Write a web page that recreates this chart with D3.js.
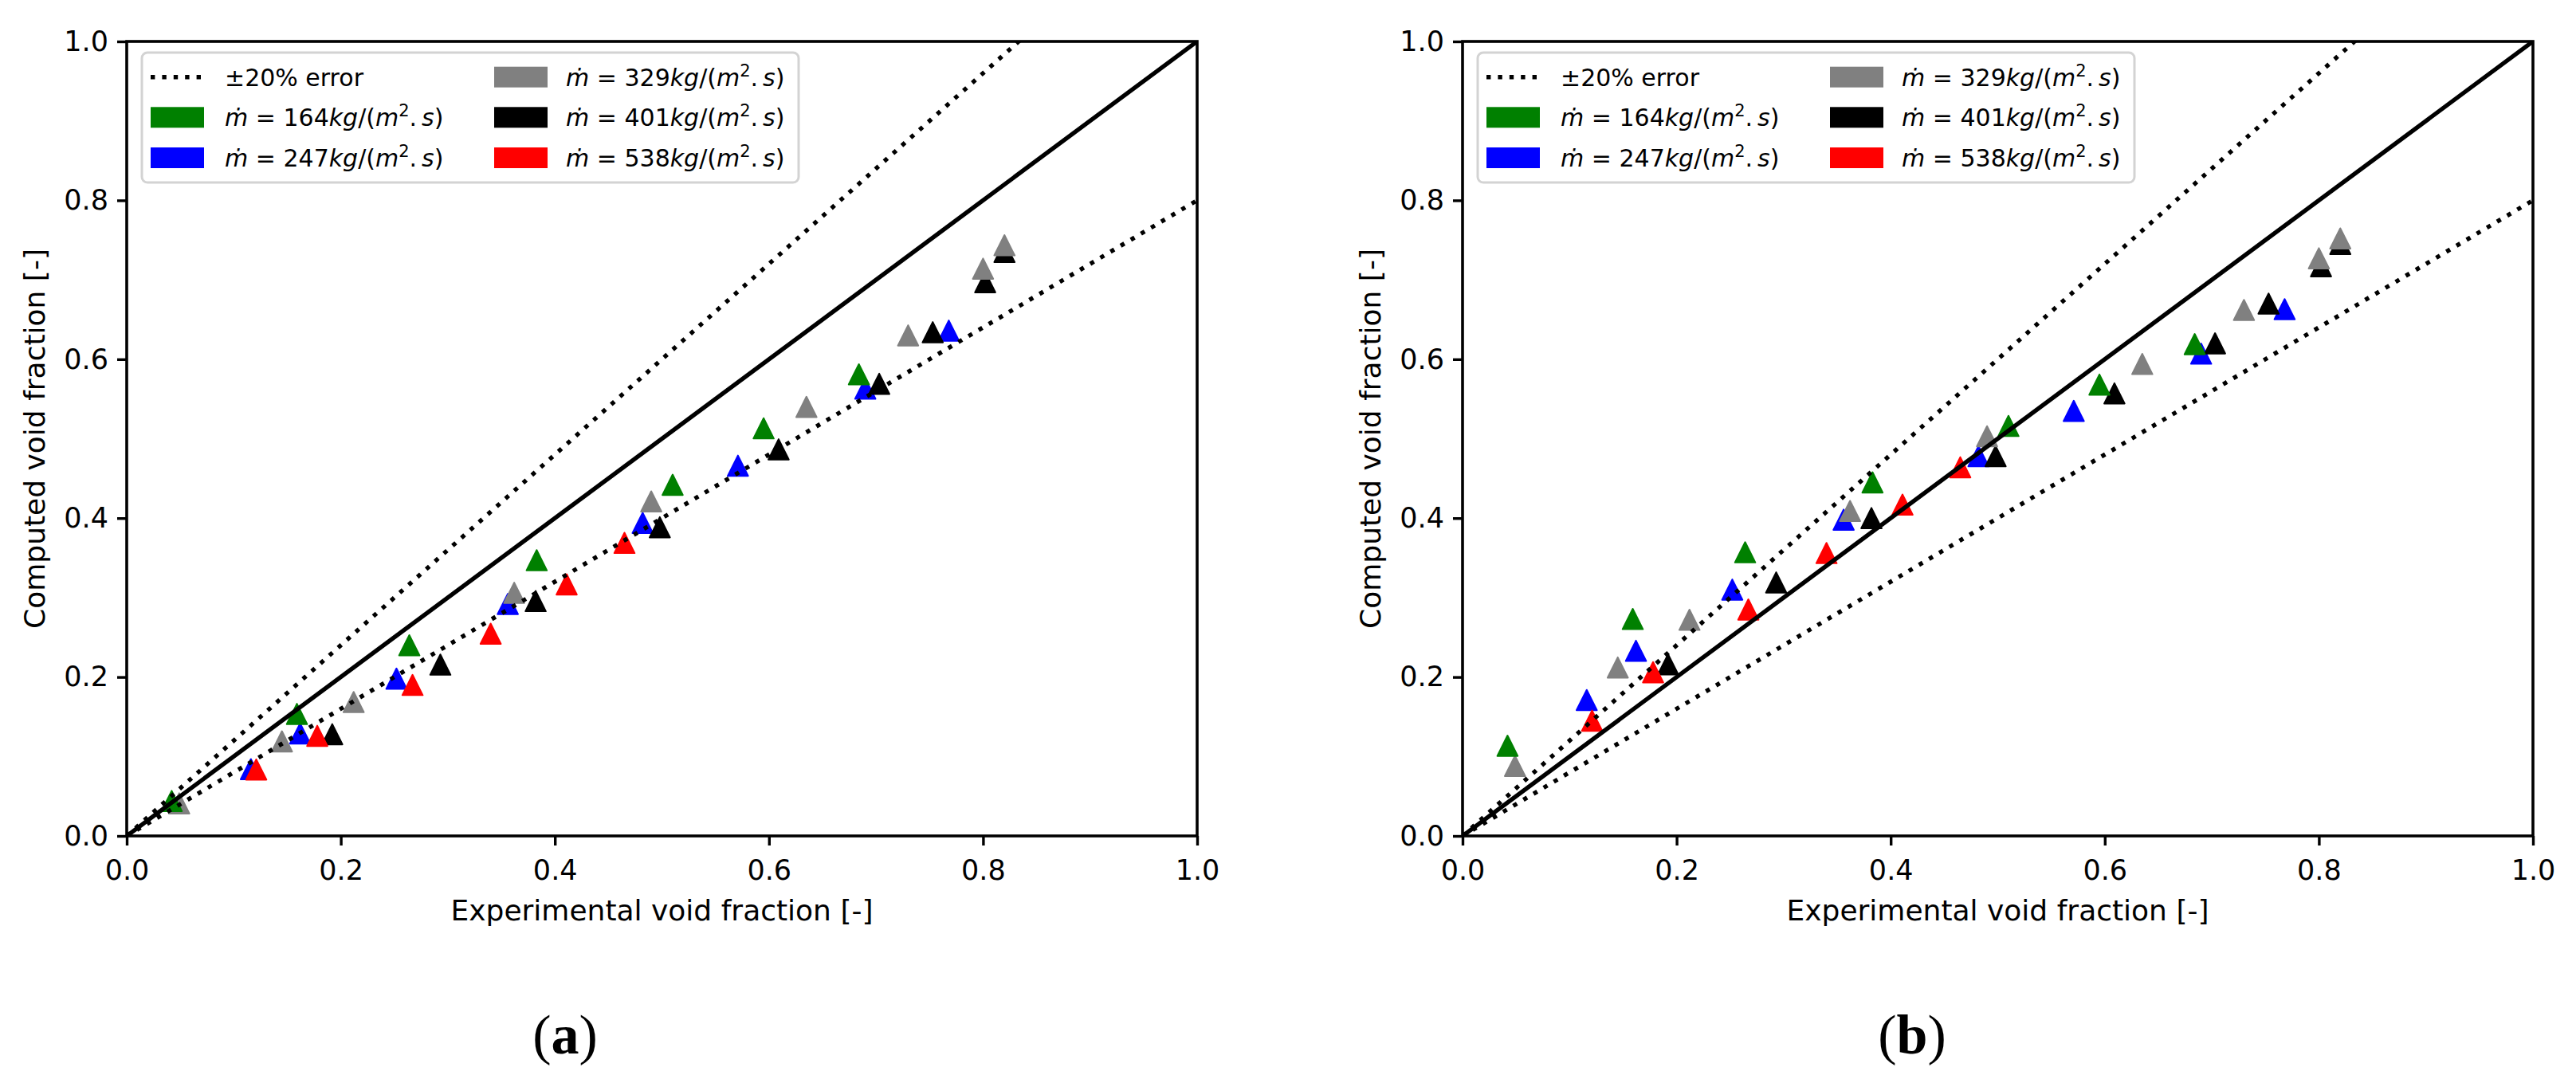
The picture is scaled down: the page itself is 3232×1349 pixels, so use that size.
<!DOCTYPE html>
<html>
<head>
<meta charset="utf-8">
<script src="https://cdn.jsdelivr.net/npm/d3@7"></script>
<style>
  html, body { margin: 0; padding: 0; background: #fff; }
  svg { display: block; }
</style>
</head>
<body>
<svg id="chart" width="3232" height="1349"></svg>
<script>
// ---------------- DATA ----------------
const fluxValues = [164, 247, 329, 401, 538];          // kg/(m2.s)
const seriesColors = ["green", "blue", "gray", "black", "red"];

// experimental void fraction (x) per series
const expX164 = [0.042, 0.159, 0.264, 0.383, 0.510, 0.595, 0.684];
const expX247 = [0.116, 0.162, 0.252, 0.356, 0.482, 0.571, 0.690, 0.768];
const expX329 = [0.049, 0.145, 0.212, 0.362, 0.490, 0.635, 0.730, 0.800, 0.820];
const expX401 = [0.192, 0.293, 0.382, 0.498, 0.609, 0.703, 0.753, 0.802, 0.820];
const expX538 = [0.121, 0.178, 0.267, 0.340, 0.411, 0.465];

// computed void fraction, panel (a)
const compA164 = [0.044, 0.1535, 0.240, 0.347, 0.442, 0.513, 0.581];
const compA247 = [0.084, 0.129, 0.198, 0.292, 0.394, 0.466, 0.563, 0.636];
const compA329 = [0.041, 0.119, 0.1685, 0.306, 0.421, 0.540, 0.630, 0.714, 0.7435];
const compA401 = [0.128, 0.2156, 0.2956, 0.3885, 0.4865, 0.569, 0.634, 0.697, 0.735];
const compA538 = [0.0836, 0.126, 0.190, 0.2545, 0.3166, 0.3688];

// computed void fraction, panel (b)
const compB164 = [0.1135, 0.273, 0.357, 0.445, 0.516, 0.568, 0.619];
const compB247 = [0.171, 0.233, 0.310, 0.398, 0.478, 0.535, 0.607, 0.663];
const compB329 = [0.088, 0.212, 0.272, 0.409, 0.503, 0.594, 0.662, 0.727, 0.752];
const compB401 = [0.216, 0.319, 0.400, 0.478, 0.557, 0.620, 0.670, 0.717, 0.745];
const compB538 = [0.145, 0.206, 0.285, 0.356, 0.417, 0.464];

const tickValues = [0.0, 0.2, 0.4, 0.6, 0.8, 1.0];
const tickLabels = ["0.0", "0.2", "0.4", "0.6", "0.8", "1.0"];
const errorBand = 0.20;
const errorLabel = "±20% error";
const xLabel = "Experimental void fraction [-]";
const yLabel = "Computed void fraction [-]";
const panelLetters = ["a", "b"];

// ---------------- LAYOUT ----------------
const svg = d3.select("#chart");
const FONT = "DejaVu Sans, sans-serif";
const plotW = 1343, plotTop = 52, plotBottom = 1049;
const panelLefts = [159, 1835];
const captionX = [709, 2399];
const drawOrder = [1, 3, 2, 4, 0]; // index into series for z-order

const expXs = [expX164, expX247, expX329, expX401, expX538];
const comps = [
  [compA164, compA247, compA329, compA401, compA538],
  [compB164, compB247, compB329, compB401, compB538]
];

const triHalf = 12.8;
const triPath = `M0,${-triHalf}L${triHalf},${triHalf}L${-triHalf},${triHalf}Z`;
const LW = 5.4;

panelLefts.forEach((x0, p) => {
  const x = d3.scaleLinear().domain([0, 1]).range([x0, x0 + plotW]);
  const y = d3.scaleLinear().domain([0, 1]).range([plotBottom, plotTop]);
  const g = svg.append("g");

  const clipId = "clip" + p;
  g.append("clipPath").attr("id", clipId).append("rect")
    .attr("x", x(0)).attr("y", y(1)).attr("width", x(1) - x(0)).attr("height", y(0) - y(1));

  // markers
  const mg = g.append("g").attr("clip-path", `url(#${clipId})`);
  drawOrder.forEach(s => {
    const pts = expXs[s].map((ex, i) => ({ ex, cy: comps[p][s][i] }));
    mg.selectAll(null).data(pts).enter().append("path")
      .attr("d", triPath)
      .attr("transform", d => `translate(${x(d.ex)},${y(d.cy)})`)
      .attr("fill", seriesColors[s])
      .attr("stroke", seriesColors[s])
      .attr("stroke-width", 2)
      .attr("stroke-linejoin", "round");
  });

  // reference lines
  const lg = g.append("g").attr("clip-path", `url(#${clipId})`);
  const line = d3.line().x(d => x(d[0])).y(d => y(d[1]));
  lg.append("path").datum([[0, 0], [1, 1]]).attr("d", line)
    .attr("stroke", "#000").attr("stroke-width", LW).attr("fill", "none");
  [1 + errorBand, 1 - errorBand].forEach(k => {
    lg.append("path").datum([[0, 0], [1, k]]).attr("d", line)
      .attr("stroke", "#000").attr("stroke-width", LW).attr("fill", "none")
      .attr("stroke-dasharray", `${LW} 9.4`);
  });

  // axes
  const xAxis = d3.axisBottom(x).tickValues(tickValues)
    .tickFormat((d, i) => tickLabels[i]).tickSize(12).tickPadding(18);
  const yAxis = d3.axisLeft(y).tickValues(tickValues)
    .tickFormat((d, i) => tickLabels[i]).tickSize(12).tickPadding(11);
  const gx = g.append("g").attr("transform", `translate(0,${plotBottom})`).call(xAxis);
  const gy = g.append("g").attr("transform", `translate(${x0},0)`).call(yAxis);
  [gx, gy].forEach(ax => {
    ax.select(".domain").remove();
    ax.selectAll(".tick line").attr("stroke", "#000").attr("stroke-width", 3.4);
    ax.selectAll(".tick text").attr("fill", "#000")
      .style("font-family", FONT).style("font-size", "35px");
  });

  // frame
  g.append("rect").attr("x", x(0)).attr("y", y(1))
    .attr("width", x(1) - x(0)).attr("height", y(0) - y(1))
    .attr("fill", "none").attr("stroke", "#000").attr("stroke-width", 3.6);

  // axis labels
  g.append("text").attr("x", (x(0) + x(1)) / 2).attr("y", 1155)
    .attr("text-anchor", "middle").style("font-family", FONT).style("font-size", "36px")
    .text(xLabel);
  g.append("text").attr("transform", `translate(${x0 - 103},${(y(0) + y(1)) / 2}) rotate(-90)`)
    .attr("text-anchor", "middle").style("font-family", FONT).style("font-size", "36px")
    .text(yLabel);

  // legend
  const lx = x0 + 19, ly = 66;
  const leg = g.append("g");
  leg.append("rect").attr("x", lx).attr("y", ly).attr("width", 824).attr("height", 163)
    .attr("rx", 7).attr("fill", "#fff").attr("fill-opacity", 0.85)
    .attr("stroke", "#d3d3d3").attr("stroke-width", 3);
  const rowY = [96.7, 147.3, 198];
  const colPatch = [lx + 11, lx + 442];
  const colText = [lx + 104, lx + 532];
  const entries = [
    { type: "line", label: errorLabel },
    { type: "patch", s: 0 }, { type: "patch", s: 1 },
    { type: "patch", s: 2 }, { type: "patch", s: 3 }, { type: "patch", s: 4 }
  ];
  entries.forEach((e, i) => {
    const c = Math.floor(i / 3), r = i % 3;
    const cy = rowY[r];
    if (e.type === "line") {
      leg.append("line").attr("x1", colPatch[c]).attr("x2", colPatch[c] + 67)
        .attr("y1", cy).attr("y2", cy).attr("stroke", "#000").attr("stroke-width", LW)
        .attr("stroke-dasharray", `${LW} 9`);
      leg.append("text").attr("x", colText[c]).attr("y", cy + 11)
        .style("font-family", FONT).style("font-size", "30px").text(e.label);
    } else {
      leg.append("rect").attr("x", colPatch[c]).attr("y", cy - 13)
        .attr("width", 67).attr("height", 26).attr("fill", seriesColors[e.s]);
      const t = leg.append("text").attr("x", colText[c]).attr("y", cy + 11)
        .style("font-family", FONT).style("font-size", "30px");
      const parts = [
        ["ṁ", true], [" = ", false], [String(fluxValues[e.s]), false],
        ["kg", true], ["/(", false], ["m", true]
      ];
      parts.forEach(([txt, it]) => t.append("tspan").style("font-style", it ? "italic" : "normal").text(txt));
      t.append("tspan").attr("dy", -12).style("font-size", "21px").text("2");
      t.append("tspan").attr("dy", 12).text(".");
      t.append("tspan").attr("dx", 6).style("font-style", "italic").text("s");
      t.append("tspan").text(")");
    }
  });

  // caption
  const cap = svg.append("text").attr("x", captionX[p]).attr("y", 1322)
    .attr("text-anchor", "middle")
    .style("font-family", "Liberation Serif, serif").style("font-size", "70px");
  cap.append("tspan").text("(");
  cap.append("tspan").style("font-weight", "bold").text(panelLetters[p]);
  cap.append("tspan").text(")");
});
</script>
</body>
</html>
